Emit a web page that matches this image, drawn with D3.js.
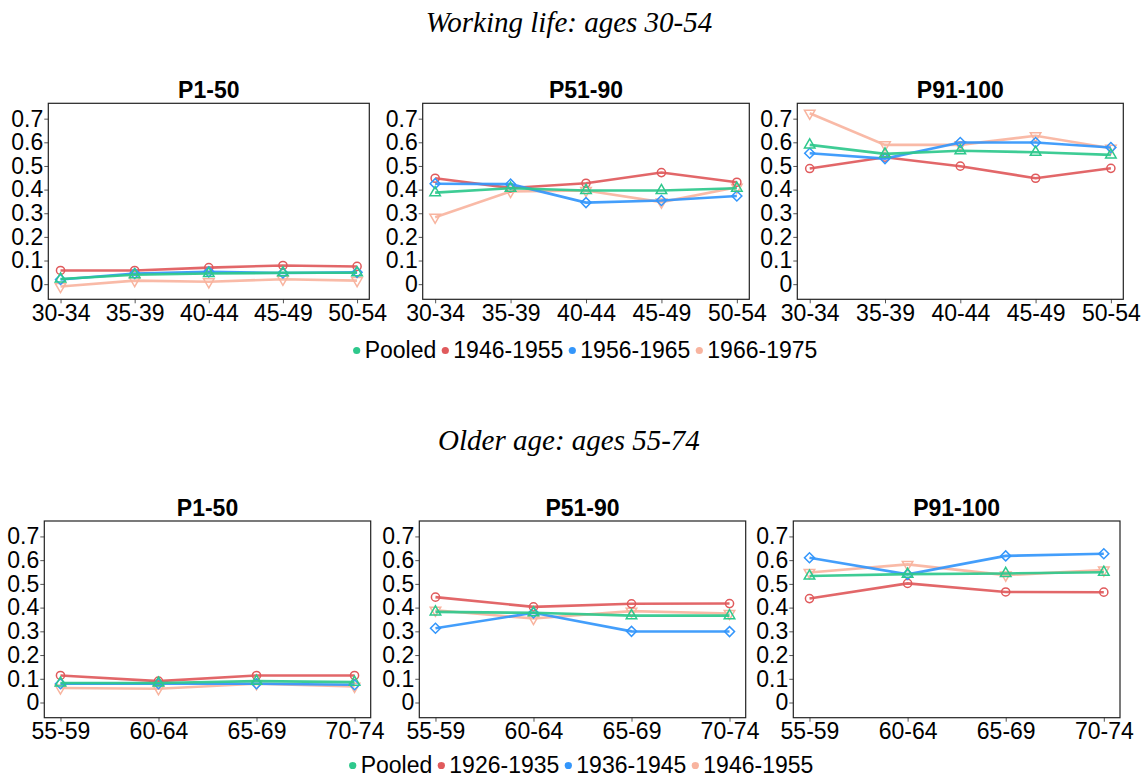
<!DOCTYPE html>
<html>
<head>
<meta charset="utf-8">
<script src="https://cdn.jsdelivr.net/npm/d3@7"></script>
<style>
  body { margin: 0; background: #fff; }
  svg text { font-family: "Liberation Sans", Arial, sans-serif; }
</style>
</head>
<body>
<svg id="chart" width="1146" height="778"></svg>
<script>
// data
var workAges = ["30-34", "35-39", "40-44", "45-49", "50-54"];
var oldAges = ["55-59", "60-64", "65-69", "70-74"];
var panelTitles = ["P1-50", "P51-90", "P91-100"];
var workCohorts = ["Pooled", "1946-1955", "1956-1965", "1966-1975"];
var oldCohorts = ["Pooled", "1926-1935", "1936-1945", "1946-1955"];
var yTicks = [0, 0.1, 0.2, 0.3, 0.4, 0.5, 0.6, 0.7];

// working life, one array per cohort, one row per panel
var workPooled = [
  [0.022, 0.040, 0.045, 0.048, 0.048],
  [0.387, 0.406, 0.396, 0.396, 0.406],
  [0.589, 0.551, 0.564, 0.558, 0.547]
];
var work1946 = [
  [0.058, 0.058, 0.070, 0.079, 0.075],
  [0.448, 0.407, 0.427, 0.472, 0.431],
  [0.489, 0.537, 0.499, 0.448, 0.490]
];
var work1956 = [
  [0.020, 0.045, 0.052, 0.047, 0.050],
  [0.425, 0.423, 0.345, 0.354, 0.373],
  [0.554, 0.531, 0.599, 0.599, 0.578]
];
var work1966 = [
  [-0.010, 0.015, 0.010, 0.021, 0.015],
  [0.283, 0.392, 0.396, 0.347, 0.410],
  [0.723, 0.589, 0.589, 0.628, 0.575]
];

// older age
var oldPooled = [
  [0.082, 0.082, 0.090, 0.086],
  [0.382, 0.378, 0.366, 0.366],
  [0.533, 0.541, 0.544, 0.549]
];
var old1926 = [
  [0.114, 0.090, 0.114, 0.114],
  [0.444, 0.403, 0.416, 0.417],
  [0.438, 0.502, 0.466, 0.465]
];
var old1936 = [
  [0.079, 0.079, 0.079, 0.075],
  [0.313, 0.378, 0.300, 0.299],
  [0.610, 0.540, 0.618, 0.627]
];
var old1946 = [
  [0.061, 0.058, 0.079, 0.068],
  [0.389, 0.354, 0.385, 0.375],
  [0.548, 0.582, 0.537, 0.558]
];

var colors = ["#2ec88c", "#e05a5c", "#3396fb", "#f8b49f"];
var shapes = ["triUp", "circle", "diamond", "triDown"];

var svg = d3.select("#chart");

function symbolPath(shape) {
  if (shape == "circle") return d3.symbol(d3.symbolCircle, 52)();
  if (shape == "diamond") return d3.symbol(d3.symbolSquare, 50)();
  return d3.symbol(d3.symbolTriangle, 48)();
}
function symbolRot(shape) {
  if (shape == "diamond") return 45;
  if (shape == "triDown") return 180;
  return 0;
}

function drawPanel(box, cats, seriesList, title) {
  var x = d3.scalePoint().domain(cats).range([box[0], box[2]]).padding(0.165);
  var y = d3.scaleLinear().domain([-0.064, 0.765]).range([box[3], box[1]]);
  var g = svg.append("g");

  g.append("text")
    .attr("x", (box[0] + box[2]) / 2)
    .attr("y", box[1] - 5)
    .attr("text-anchor", "middle")
    .style("font-size", "23px")
    .style("font-weight", "bold")
    .text(title);

  var yAxis = g.append("g")
    .attr("transform", "translate(" + box[0] + ",0)")
    .call(d3.axisLeft(y).tickValues(yTicks).tickSize(4).tickPadding(1)
      .tickFormat(function (d) { return d == 0 ? "0" : d3.format(".1f")(d); }));
  var xAxis = g.append("g")
    .attr("transform", "translate(0," + box[3] + ")")
    .call(d3.axisBottom(x).tickSize(4).tickPadding(1));
  [yAxis, xAxis].forEach(function (a) {
    a.select(".domain").remove();
    a.selectAll(".tick line").attr("stroke", "#555");
    a.selectAll(".tick text").attr("fill", "#000")
      .style("font-size", "23px")
      .style("font-family", "Liberation Sans, Arial, sans-serif");
  });

  g.append("rect")
    .attr("x", box[0]).attr("y", box[1])
    .attr("width", box[2] - box[0]).attr("height", box[3] - box[1])
    .attr("fill", "none").attr("stroke", "#222").attr("stroke-width", 1.2);

  var line = d3.line()
    .x(function (d, i) { return x(cats[i]); })
    .y(function (d) { return y(d); });

  // cohorts first, pooled on top
  var order = [3, 1, 2, 0];
  order.forEach(function (k) {
    var vals = seriesList[k];
    g.append("path")
      .datum(vals)
      .attr("d", line)
      .attr("fill", "none")
      .attr("stroke", colors[k])
      .attr("stroke-width", 2.6)
      .attr("stroke-opacity", 0.92);
    g.selectAll(".pt" + k)
      .data(vals)
      .enter()
      .append("path")
      .attr("class", "pt" + k)
      .attr("d", symbolPath(shapes[k]))
      .attr("transform", function (d, i) {
        return "translate(" + x(cats[i]) + "," + y(d) + ") rotate(" + symbolRot(shapes[k]) + ")";
      })
      .attr("fill", "none")
      .attr("stroke", colors[k])
      .attr("stroke-width", 1.5);
  });
}

function drawLegend(cx, yBase, labels) {
  var g = svg.append("g");
  var xPos = 0;
  var items = [];
  labels.forEach(function (lab, i) {
    var it = g.append("g");
    it.append("circle").attr("cx", 0).attr("cy", -7.5).attr("r", 3.6).attr("fill", colors[i]);
    var t = it.append("text").attr("x", 8).attr("y", 0)
      .style("font-size", "23px").text(lab);
    items.push({ node: it, w: 8 + t.node().getComputedTextLength() });
  });
  var gap = 9;
  var total = d3.sum(items, function (d) { return d.w; }) + gap * (items.length - 1);
  xPos = cx - total / 2;
  items.forEach(function (d) {
    d.node.attr("transform", "translate(" + xPos + "," + yBase + ")");
    xPos += d.w + gap;
  });
}

function sectionTitle(txt, yBase) {
  svg.append("text")
    .attr("x", 569).attr("y", yBase)
    .attr("text-anchor", "middle")
    .style("font-family", "Liberation Serif, serif")
    .style("font-style", "italic")
    .style("font-size", "29px")
    .text(txt);
}

sectionTitle("Working life: ages 30-54", 32);
sectionTitle("Older age: ages 55-74", 450);

var topBoxes = [[48.3, 103.3, 369.3, 299.3], [422.7, 103.3, 749.3, 299.3], [797.3, 103.3, 1123.3, 299.3]];
var botBoxes = [[44.3, 521, 370.7, 717.7], [419.3, 521, 745.7, 717.7], [793.3, 521, 1120, 717.7]];

for (var p = 0; p < 3; p++) {
  drawPanel(topBoxes[p], workAges, [workPooled[p], work1946[p], work1956[p], work1966[p]], panelTitles[p]);
  drawPanel(botBoxes[p], oldAges, [oldPooled[p], old1926[p], old1936[p], old1946[p]], panelTitles[p]);
}

drawLegend(587, 358, workCohorts);
drawLegend(583, 773, oldCohorts);
</script>
</body>
</html>
